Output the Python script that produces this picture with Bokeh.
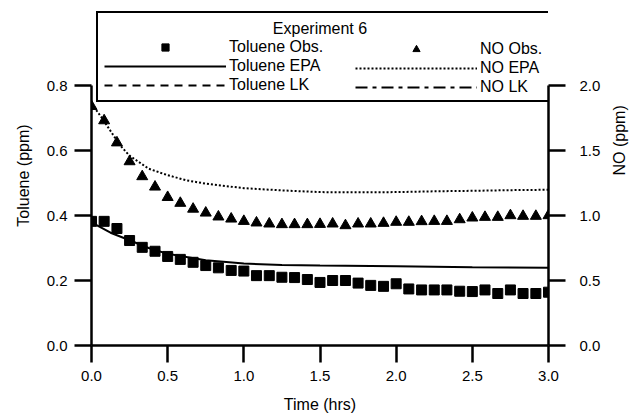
import math
import numpy as np
from bokeh.plotting import figure
from bokeh.models import (Range1d, LinearAxis, FixedTicker, PrintfTickFormatter,
                          Legend, LegendItem, Label, ColumnDataSource)
from bokeh.embed import file_html
from bokeh.resources import INLINE

# ---------------- data ----------------
obs_time = [0.0, 0.083, 0.167, 0.25, 0.333, 0.417, 0.5, 0.583, 0.667, 0.75,
            0.833, 0.917, 1.0, 1.083, 1.167, 1.25, 1.333, 1.417, 1.5, 1.583,
            1.667, 1.75, 1.833, 1.917, 2.0, 2.083, 2.167, 2.25, 2.333, 2.417,
            2.5, 2.583, 2.667, 2.75, 2.833, 2.917, 3.0]
toluene_obs = [0.382, 0.382, 0.360, 0.323, 0.302, 0.290, 0.274, 0.265, 0.256, 0.246,
               0.239, 0.231, 0.229, 0.215, 0.215, 0.210, 0.209, 0.203, 0.194, 0.200,
               0.200, 0.192, 0.185, 0.182, 0.190, 0.174, 0.171, 0.171, 0.171, 0.167,
               0.166, 0.171, 0.160, 0.171, 0.160, 0.160, 0.164]
no_obs = [1.84, 1.73, 1.56, 1.415, 1.30, 1.22, 1.14, 1.095, 1.05, 1.02,
          0.99, 0.974, 0.956, 0.944, 0.936, 0.931, 0.931, 0.931, 0.933, 0.936,
          0.923, 0.936, 0.936, 0.941, 0.949, 0.949, 0.954, 0.956, 0.956, 0.969,
          0.982, 0.987, 0.987, 1.0, 0.995, 0.995, 1.0]

tol_epa_time = [0.0, 0.125, 0.25, 0.375, 0.5, 0.75, 1.0, 1.25, 1.5, 2.0, 2.5, 3.0]
tol_epa = [0.379, 0.347, 0.324, 0.300, 0.282, 0.262, 0.252, 0.248, 0.246, 0.244, 0.241, 0.239]

no_epa_time = [0.0, 0.0625, 0.125, 0.1875, 0.25, 0.375, 0.5, 0.625, 0.75, 1.0,
               1.25, 1.5, 1.75, 2.0, 2.25, 2.5, 2.75, 3.0]
no_epa = [1.86, 1.76, 1.65, 1.54, 1.46, 1.36, 1.31, 1.27, 1.245, 1.21,
          1.193, 1.18, 1.178, 1.18, 1.186, 1.19, 1.195, 1.198]

# LK model curves are not visible in the plot area (legend entries only)
tol_lk_time = [0.0, 3.0]
tol_lk = [np.nan, np.nan]
no_lk_time = [0.0, 3.0]
no_lk = [np.nan, np.nan]

x_ticks = [0.0, 0.5, 1.0, 1.5, 2.0, 2.5, 3.0]
left_ticks = [0.0, 0.2, 0.4, 0.6, 0.8]
right_ticks = [0.0, 0.5, 1.0, 1.5, 2.0]

legend_title = "Experiment 6"

FONT = "Liberation Sans"
FS = "15px"

# frame spans 5..345 px vertically; axes drawn only over the data limits (85..345)
TOP_PAD = 340 / 260
p = figure(width=639, height=416, x_range=Range1d(0, 3),
           y_range=Range1d(0, 0.8 * TOP_PAD),
           output_backend="svg", toolbar_location=None,
           min_border_left=91, min_border_right=90, min_border_top=5, min_border_bottom=71)
p.extra_y_ranges = {"no": Range1d(0, 2.0 * TOP_PAD)}
p.outline_line_color = None
p.grid.visible = False
p.background_fill_color = "white"
p.border_fill_color = "white"

right_axis = LinearAxis(y_range_name="no")
p.add_layout(right_axis, "right")

def style(ax, ticks, tick_out, standoff, label, label_standoff, bounds):
    ax.ticker = FixedTicker(ticks=ticks)
    ax.formatter = PrintfTickFormatter(format="%.1f")
    ax.bounds = bounds
    ax.axis_line_width = 2.5
    ax.axis_line_color = "black"
    ax.major_tick_line_width = 2.5
    ax.major_tick_line_color = "black"
    ax.major_tick_in = 0
    ax.major_tick_out = tick_out
    ax.minor_tick_line_color = None
    ax.major_label_text_font = FONT
    ax.major_label_text_font_size = FS
    ax.major_label_text_color = "black"
    ax.major_label_standoff = standoff
    ax.axis_label = label
    ax.axis_label_text_font = FONT
    ax.axis_label_text_font_size = "16px"
    ax.axis_label_text_font_style = "normal"
    ax.axis_label_text_color = "black"
    ax.axis_label_standoff = label_standoff

style(p.xaxis[0], x_ticks, 17, 8, "Time (hrs)", 12, (0, 3))
style(p.yaxis[0], left_ticks, 17, 7, "Toluene (ppm)", 12, (0, 0.8))
style(right_axis, right_ticks, 17, 14, "NO (ppm)", 16, (0, 2.0))
right_axis.axis_label_orientation = math.pi / 2

src_obs = ColumnDataSource(dict(t=obs_time, tol=toluene_obs, no=no_obs))

r_tepa = p.line(tol_epa_time, tol_epa, line_color="black", line_width=2)
r_nepa = p.line(no_epa_time, no_epa, line_color="black", line_width=2,
                line_dash="2 2", y_range_name="no")
r_tlk = p.line(tol_lk_time, tol_lk, line_color="black", line_width=2, line_dash="8 6")
r_nlk = p.line(no_lk_time, no_lk, line_color="black", line_width=2,
               line_dash="12 5 4 5", y_range_name="no")
r_sq = p.scatter("t", "tol", source=src_obs, marker="square", size=10,
                 fill_color="black", line_color="black")
r_tri = p.scatter("t", "no", source=src_obs, marker="triangle", size=11,
                  fill_color="black", line_color="black", y_range_name="no")

common = dict(title=" ", title_text_font=FONT, title_text_font_size="16px", title_standoff=1,
              label_text_font=FONT, label_text_font_size="16px", label_text_color="black",
              glyph_width=122, glyph_height=18, label_height=18,
              label_standoff=3, spacing=1, padding=6, margin=0, background_fill_alpha=0)

legend_tol = Legend(items=[
    LegendItem(label="Toluene Obs.", renderers=[r_sq]),
    LegendItem(label="Toluene EPA", renderers=[r_tepa]),
    LegendItem(label="Toluene LK", renderers=[r_tlk]),
], location=(5, 243), label_width=314,
    border_line_color="black", border_line_width=2.5, border_line_alpha=1.0, **common)
p.add_layout(legend_tol)

legend_no = Legend(items=[
    LegendItem(label="NO Obs.", renderers=[r_tri]),
    LegendItem(label="NO EPA", renderers=[r_nepa]),
    LegendItem(label="NO LK", renderers=[r_nlk]),
], location=(258, 243), label_width=60, border_line_alpha=0, **common)
p.add_layout(legend_no)

# legend heading, centred over the legend box (data units of the left axis)
title_lbl = Label(x=1.5, y=0.975, text=legend_title,
                  text_font=FONT, text_font_size="16px", text_align="center",
                  text_baseline="middle", text_color="black")
p.add_layout(title_lbl)

open("out.html", "w").write(file_html(p, INLINE))
